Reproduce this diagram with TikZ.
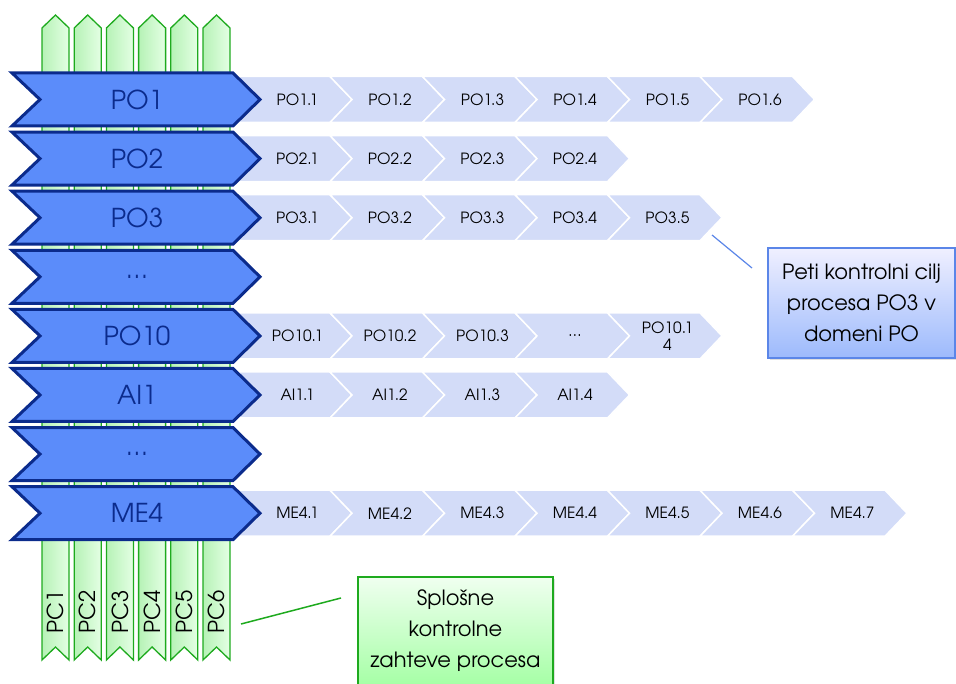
\documentclass[tikz,border=0pt]{standalone}
\usepackage{fontspec}
\setmainfont{TeX Gyre Adventor}
\usetikzlibrary{shadows}
\definecolor{procblue}{HTML}{5B8CFA}
\definecolor{procedge}{HTML}{0B2B8C}
\definecolor{ctrlblue}{HTML}{D3DCF8}
\definecolor{reqedge}{HTML}{1EAA1E}
\definecolor{reqdark}{HTML}{B6F2B6}
\definecolor{reqlight}{HTML}{E4FFE4}
\definecolor{noteedge}{HTML}{5B86E8}
\tikzset{
  colshape/.style={draw=reqedge, line width=1.3pt, left color=reqdark, right color=reqlight},
  pclabel/.style={rotate=90, font=\fontsize{22}{24}\selectfont, inner sep=0pt},
  segshape/.style={fill=ctrlblue, draw=white, line width=1.5pt},
  seglabel/.style={font=\fontsize{15.5}{17}\selectfont, align=center, inner sep=0pt},
  procshape/.style={fill=procblue, draw=procedge, line width=3pt, line join=miter},
  proclabel/.style={font=\fontsize{26}{30}\selectfont, text=procedge, inner sep=0pt},
  bluenote/.style={draw=noteedge, line width=1.2pt, top color=blue!6!white, bottom color=procblue!60!white,
    minimum width=187pt, minimum height=110pt, inner sep=0pt, align=center,
    font=\fontsize{21}{31}\selectfont, drop shadow={opacity=0.25, shadow xshift=2pt, shadow yshift=-2pt}},
  greennote/.style={draw=reqedge, line width=1.2pt, top color=green!6!white, bottom color=green!35!white,
    minimum width=195pt, minimum height=108pt, inner sep=0pt, align=center,
    font=\fontsize{21}{31}\selectfont, drop shadow={opacity=0.25, shadow xshift=2pt, shadow yshift=-2pt}},
}
\begin{document}
\begin{tikzpicture}[x=1pt,y=-1pt]
\useasboundingbox (0,0) rectangle (956,684);

% process control columns PC1..PC6
\foreach \i in {1,...,6}{
  \pgfmathsetmacro\xl{42+32.2*(\i-1)}
  \pgfmathsetmacro\xr{\xl+27}
  \pgfmathsetmacro\xm{\xl+13.5}
  \path[colshape] (\xl,28) -- (\xm,15) -- (\xr,28) -- (\xr,660) -- (\xm,647) -- (\xl,660) -- cycle;
  \node[pclabel] (pc\i) at (\xm,612) {PC\i};
}

% control objective chevrons per process
\foreach \r/\lst in {1/{PO1.1,PO1.2,PO1.3,PO1.4,PO1.5,PO1.6},
                     2/{PO2.1,PO2.2,PO2.3,PO2.4},
                     3/{PO3.1,PO3.2,PO3.3,PO3.4,PO3.5},
                     5/{PO10.1,PO10.2,PO10.3,\dots,{PO10.1\\4}},
                     6/{AI1.1,AI1.2,AI1.3,AI1.4},
                     8/{ME4.1,ME4.2,ME4.3,ME4.4,ME4.5,ME4.6,ME4.7}}{
  \pgfmathsetmacro\yc{99.5+59.1*(\r-1)}
  \foreach \t [count=\k] in \lst {
    \pgfmathsetmacro\xl{237.5+92.5*(\k-1)}
    \path[segshape] (\xl,\yc-23) -- (\xl+92.5,\yc-23) -- (\xl+114.5,\yc) -- (\xl+92.5,\yc+23)
      -- (\xl,\yc+23) -- (\xl+22,\yc) -- cycle;
    \node[seglabel] (seg-\r-\k) at (\xl+60,\yc) {\t};
  }
}

% process chevrons
\foreach \r/\name in {1/PO1,2/PO2,3/PO3,4/\dots,5/PO10,6/AI1,7/\dots,8/ME4}{
  \pgfmathsetmacro\yc{99.5+59.1*(\r-1)}
  \path[procshape] (12,\yc-26.5) -- (233,\yc-26.5) -- (260,\yc) -- (233,\yc+26.5)
    -- (12,\yc+26.5) -- (40,\yc) -- cycle;
  \node[proclabel] (proc\r) at (137,\yc) {\name};
}

% callouts
\node[bluenote] (goal) at (861.5,303) {Peti kontrolni cilj\\procesa PO3 v\\domeni PO};
\coordinate (goalfrom) at (712,235);
\coordinate (goalto) at (752,268);
\draw[noteedge, line width=1.2pt] (goalfrom) -- (goalto);

\node[greennote] (req) at (455.5,631) {Splošne\\kontrolne\\zahteve procesa};
\coordinate (reqfrom) at (241,624);
\coordinate (reqto) at (341,598);
\draw[reqedge, line width=1.5pt] (reqfrom) -- (reqto);
\end{tikzpicture}
\end{document}
